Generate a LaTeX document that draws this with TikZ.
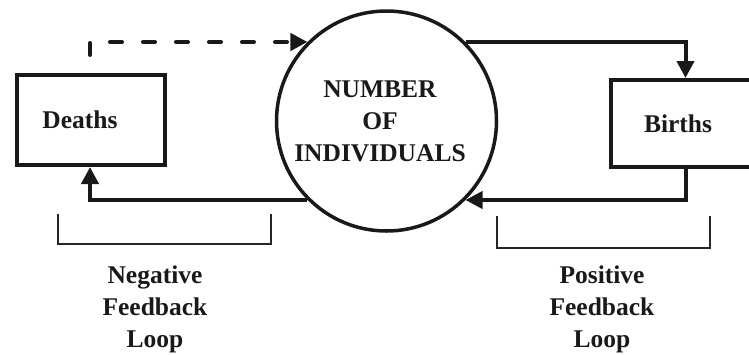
\documentclass[tikz,border=0pt]{standalone}
\usepackage{fontspec}
\setmainfont{Liberation Serif}
\usetikzlibrary{arrows.meta}
\tikzset{
  lbl/.style={font=\fontsize{25.5}{32}\selectfont\bfseries, align=center, inner sep=0pt, text=black!90},
  box/.style={draw=black!90, line width=4pt, rectangle, inner sep=0pt},
  flow/.style={draw=black!90, line width=4pt, -{Triangle[length=17pt,width=17pt]}},
  brk/.style={draw=black!85, line width=1.3pt},
}
\begin{document}
\begin{tikzpicture}[x=1pt,y=-1pt]
\useasboundingbox (0,0) rectangle (749,354);
% main population circle
\node[circle, draw=black!90, line width=3.5pt, minimum size=220pt, inner sep=0pt] (pop) at (386.5,121) {};
\node[lbl, anchor=north] (popt) at (380,81) {NUMBER\\OF\\INDIVIDUALS};
% boxes
\node[box, minimum width=148pt, minimum height=90pt,
      label={[lbl, xshift=-11pt, yshift=0pt]center:Deaths}] (deaths) at (91,120) {};
\node[box, minimum width=149pt, minimum height=87pt,
      label={[lbl, xshift=-7.5pt, yshift=0pt]center:Births}] (births) at (685.5,123.5) {};
% connectors
\coordinate (dstart) at (90,55);
\draw[flow, dash pattern=on 12pt off 21pt, line cap=round] (dstart) |- (pop.135);
\draw[flow] (pop.225) -| ([xshift=-1pt]deaths.south);
\draw[flow] (pop.45) -| (births.north);
\draw[flow] (births.south) |- (pop.-45);
% brackets
\draw[brk] (58,214) |- (271,244) -- (271,214);
\draw[brk] (497,216) |- (710,248) -- (710,216);
% loop labels
\node[lbl, anchor=north] (neg) at (155,266) {Negative\\Feedback\\Loop};
\node[lbl, anchor=north] (posl) at (602,266) {Positive\\Feedback\\Loop};
\end{tikzpicture}
\end{document}
